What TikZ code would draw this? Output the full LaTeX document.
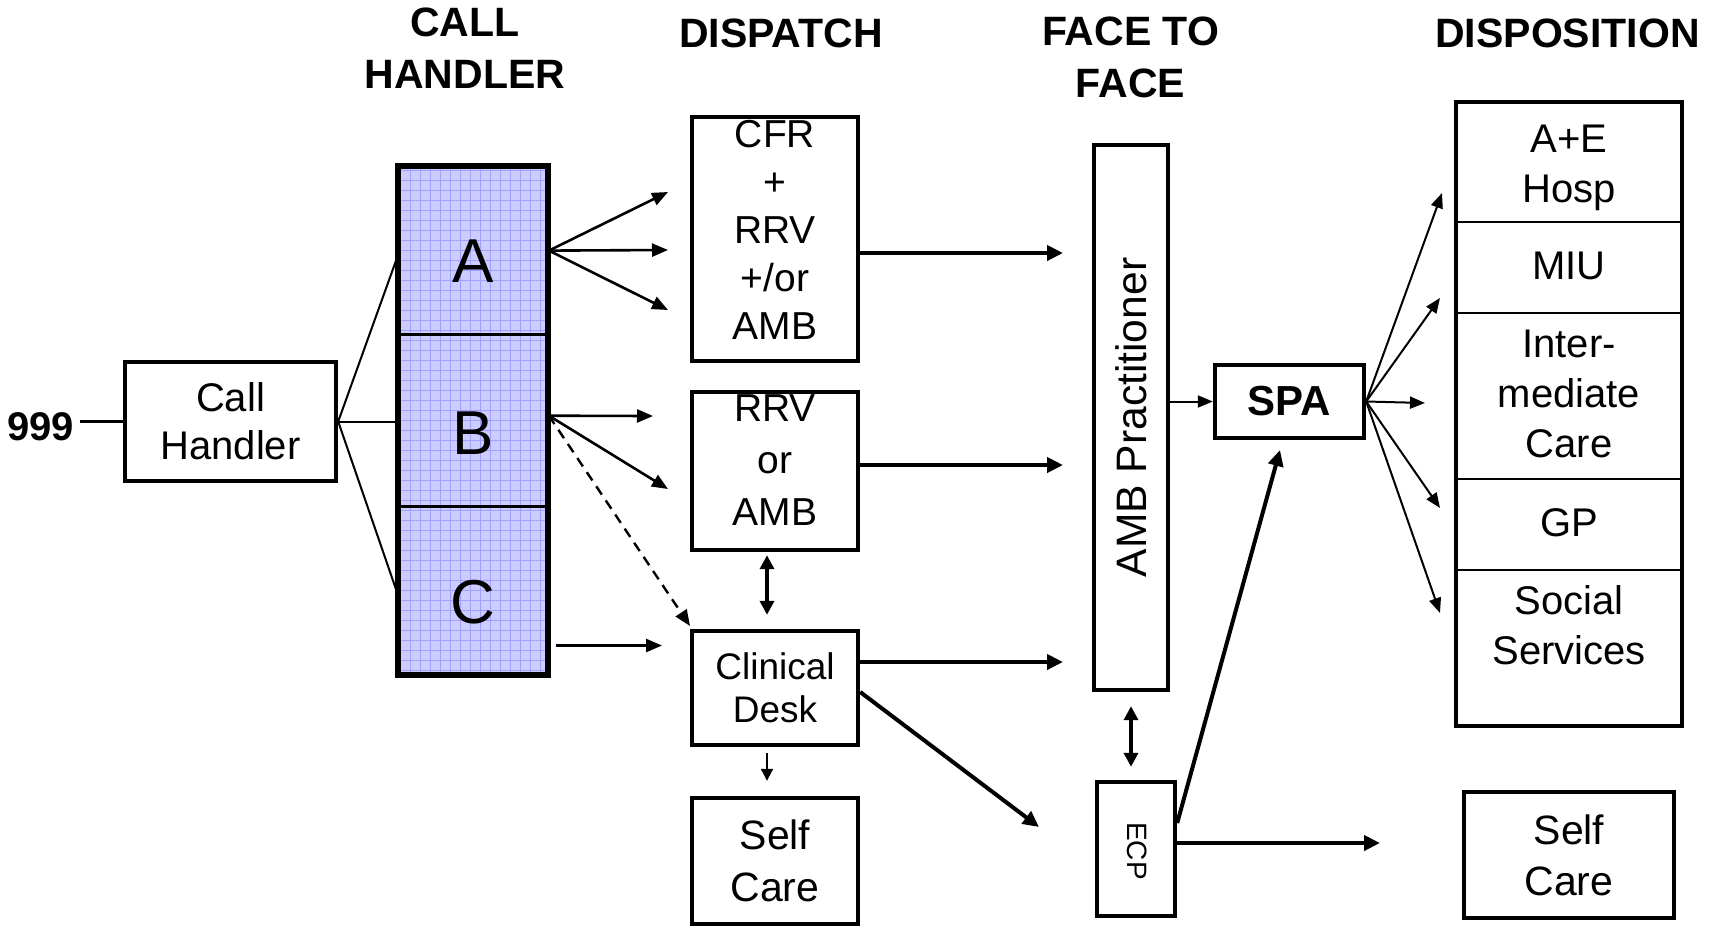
\documentclass[tikz,border=0pt]{standalone}
\usepackage{fontspec}
\setmainfont{Liberation Sans}
\usetikzlibrary{arrows.meta}
\definecolor{abcfill}{RGB}{204,204,255}
\definecolor{abcgrid}{RGB}{160,160,255}
\begin{document}
\begin{tikzpicture}[x=0.5pt,y=-0.5pt,
  bx/.style={draw, line width=2.2pt, inner sep=0pt, align=center},
  hdr/.style={font=\bfseries\fontsize{20.5}{26}\selectfont, align=center, inner sep=0pt},
  dtxt/.style={font=\fontsize{20}{25}\selectfont, align=center, inner sep=0pt},
  ptxt/.style={font=\fontsize{19.5}{24}\selectfont, align=center, inner sep=0pt},
  abc/.style={font=\fontsize{31}{31}\selectfont, inner sep=0pt, minimum width=75.5pt},
  plainline/.style={line width=1pt},
  thinarr/.style={line width=1.3pt, -{Triangle[length=8pt,width=6.5pt]}},
  sparr/.style={line width=1pt, -{Triangle[length=7.5pt,width=6pt]}},
  thickarr/.style={line width=2pt, -{Triangle[length=8pt,width=7.5pt]}},
  dblarr/.style={line width=2pt, {Triangle[length=7pt,width=7pt]}-{Triangle[length=7pt,width=7pt]}},
  smallarr/.style={line width=1pt, -{Triangle[length=6pt,width=6pt]}},
  dasharr/.style={line width=1.2pt, dash pattern=on 5pt off 3.5pt, -{Triangle[length=8pt,width=6.5pt]}}
]
\useasboundingbox (0,0) rectangle (1709,928);

% headers
\node[hdr] (h1) at (465,47.8) {CALL\\HANDLER};
\node[hdr, anchor=base] (h2) at (781,47) {DISPATCH};
\node[hdr] (h3) at (1130.5,57.8) {FACE TO\\FACE};
\node[hdr, anchor=base] (h4) at (1567.5,47) {DISPOSITION};

% 999 and call handler
\node[font=\bfseries\fontsize{20}{24}\selectfont, anchor=base, inner sep=0pt] (n999) at (40.5,440) {999};
\node[bx, minimum width=105.5pt, minimum height=59.5pt, font=\fontsize{20}{24}\selectfont] (ch) at (230.5,421.5) {Call\\Handler};
\draw[line width=1.2pt] ([xshift=3pt]n999.east |- ch.west) -- (ch.west);

% A B C column
\fill[abcfill] (395,163) rectangle (551,678);
\draw[abcgrid, line width=0.5pt, step=5pt] (395,163) grid (551,678);
\draw[line width=1.5pt] (395,334.5) -- (551,334.5);
\draw[line width=1.5pt] (395,506) -- (551,506);
\draw[line width=3pt] (398,166) rectangle (548,675);
\node[abc] (A) at (473,261.6) {A};
\node[abc] (B) at (473,432.7) {B};
\node[abc] (C) at (473,602.5) {C};

\draw[plainline] (ch.east) -- ([yshift=2pt]A.west);
\draw[plainline] (ch.east) -- (ch.east -| B.west);
\draw[plainline] (ch.east) -- ([yshift=5pt]C.west);

% free ends
\coordinate (a1) at (668,192);
\coordinate (a2) at (668,250);
\coordinate (a3) at (668,310);
\coordinate (b1) at (653,416);
\coordinate (b2) at (668,489);
\coordinate (b3) at (690,626);
\coordinate (c1) at (662,645.5);
\coordinate (f1) at (1063,253);
\coordinate (f2) at (1063,465);
\coordinate (f3) at (1063,662);
\coordinate (f4) at (1039,827);
\coordinate (s0) at (1280,450);
\coordinate (e1) at (1380,843);
\coordinate (d1) at (1442,193);
\coordinate (d2) at (1440,298);
\coordinate (d3) at (1425,403);
\coordinate (d4) at (1440,508);
\coordinate (d5) at (1440,613);

\draw[thinarr] ([yshift=5.5pt]A.east) -- (a1);
\draw[thinarr] ([yshift=5.5pt]A.east) -- (a2);
\draw[thinarr] ([yshift=5.5pt]A.east) -- (a3);
\draw[thinarr] ([yshift=8.5pt]B.east) -- (b1);
\draw[thinarr] ([yshift=8.5pt]B.east) -- (b2);
\draw[dasharr] ([yshift=8.5pt]B.east) -- (b3);
\draw[thinarr] ([xshift=3.5pt]C.east |- c1) -- (c1);

% dispatch column
\node[bx, minimum width=83pt, minimum height=122pt] (cfr) at (775,239) {};
\node[ptxt] (cfrt) at (775,230) {CFR\\+\\RRV\\+/or\\AMB};
\node[bx, minimum width=83pt, minimum height=79pt] (rrv) at (775,471) {};
\node[ptxt, font=\fontsize{19.5}{26}\selectfont] (rrvt) at (775,460.5) {RRV\\or\\AMB};
\node[bx, minimum width=83pt, minimum height=57pt, font=\fontsize{18.5}{21.5}\selectfont] (cd) at (775,688) {Clinical\\Desk};
\node[bx, minimum width=83pt, minimum height=63pt, font=\fontsize{20.5}{26}\selectfont] (scL) at (775,861) {Self\\Care};

\draw[dblarr] ([xshift=-4pt,yshift=-1.5pt]rrv.south) -- ([xshift=-4pt,yshift=7pt]cd.north);
\draw[smallarr] ([xshift=-4pt,yshift=-3pt]cd.south) -- ([xshift=-4pt,yshift=7.5pt]scL.north);

\draw[thickarr] (cfr.east |- f1) -- (f1);
\draw[thickarr] (rrv.east |- f2) -- (f2);
\draw[thickarr] (cd.east |- f3) -- (f3);
\draw[thickarr] ([yshift=-2pt]cd.east) -- (f4);

% face to face
\node[bx, minimum width=37pt, minimum height=272.5pt] (amb) at (1131,417.5) {};
\node[rotate=90, font=\fontsize{21.3}{24}\selectfont, inner sep=0pt] (ambt) at (1131,417.5) {AMB Practitioner};
\node[bx, minimum width=39pt, minimum height=67pt] (ecp) at (1136,849) {};
\node[rotate=-90, font=\fontsize{14}{14}\selectfont, inner sep=0pt] (ecpt) at (1137.5,851) {ECP};
\draw[dblarr] ([yshift=-7pt]amb.south) -- ([yshift=6.5pt]ecp.north -| amb.south);

% SPA
\node[bx, minimum width=74.5pt, minimum height=36.5pt, font=\bfseries\fontsize{21}{21}\selectfont] (spa) at (1289.5,401.5) {SPA};
\draw[sparr] (amb.east |- spa.west) -- (spa.west);
\draw[thickarr] ([yshift=13pt]ecp.east) -- (s0);
\draw[thickarr] ([yshift=3pt]ecp.east) -- (e1);
\foreach \d in {d1,d2,d3,d4,d5} \draw[sparr] (spa.east) -- (\d);

% disposition
\node[bx, minimum width=113pt, minimum height=312pt] (disp) at (1569,414) {};
\draw[line width=1.25pt] (disp.west |- 0,222) -- (disp.east |- 0,222);
\draw[line width=1.25pt] (disp.west |- 0,313) -- (disp.east |- 0,313);
\draw[line width=1.25pt] (disp.west |- 0,479) -- (disp.east |- 0,479);
\draw[line width=1.25pt] (disp.west |- 0,570) -- (disp.east |- 0,570);
\node[dtxt] (t1) at (1569,167.4) {A+E\\Hosp};
\node[dtxt] (t2) at (1569,265.7) {MIU};
\node[dtxt] (t3) at (1569,393.7) {Inter-\\mediate\\Care};
\node[dtxt] (t4) at (1569,522.7) {GP};
\node[dtxt] (t5) at (1569,624.7) {Social\\Services};
\node[bx, minimum width=105pt, minimum height=63pt, font=\fontsize{20.5}{25.5}\selectfont] (scR) at (1569,855) {Self\\Care};
\end{tikzpicture}
\end{document}
